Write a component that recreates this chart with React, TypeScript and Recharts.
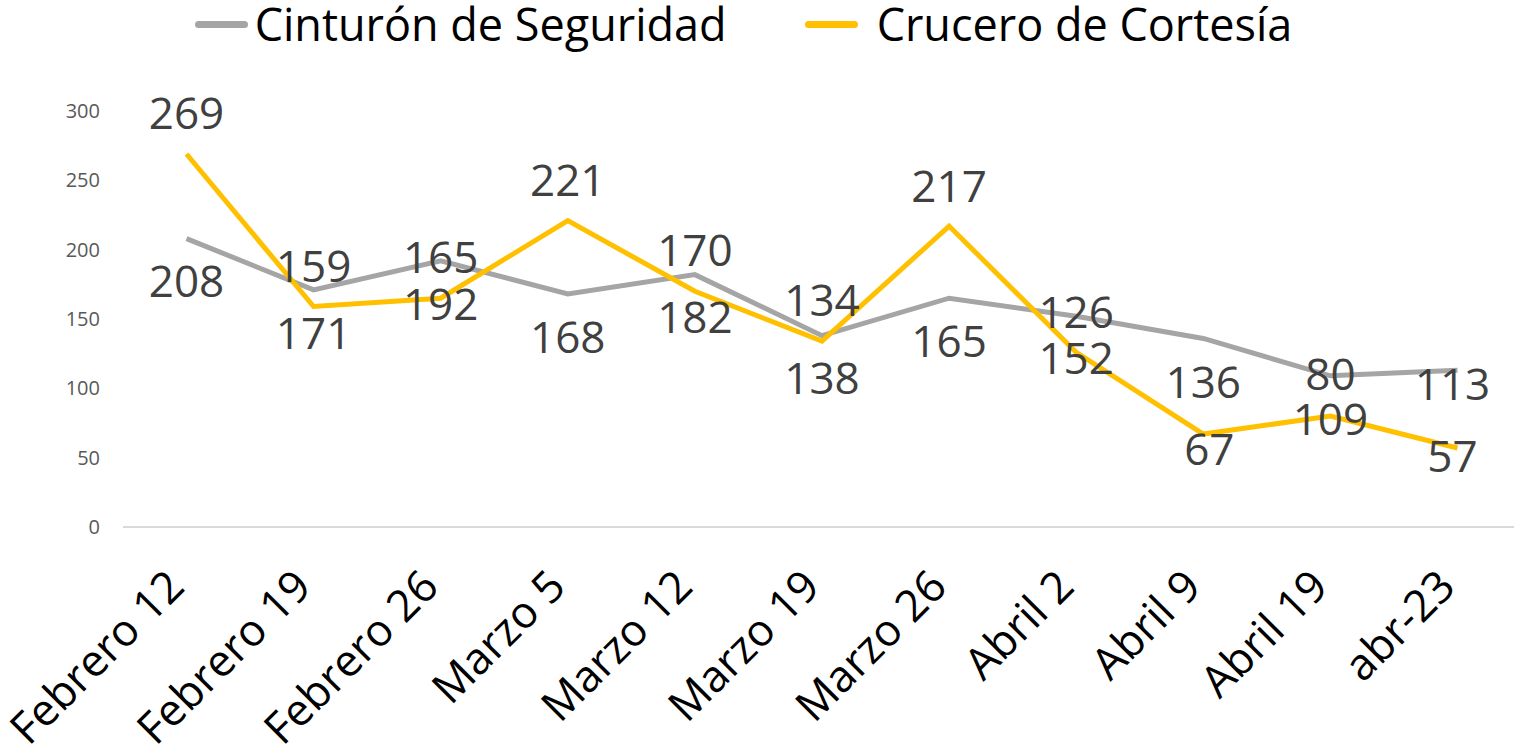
import React from 'react';
import { LineChart, Line, XAxis, YAxis, Legend, LabelList } from 'recharts';

const categories = [
  'Febrero 12', 'Febrero 19', 'Febrero 26', 'Marzo 5', 'Marzo 12', 'Marzo 19',
  'Marzo 26', 'Abril 2', 'Abril 9', 'Abril 19', 'abr-23',
];
const cinturon = [208, 171, 192, 168, 182, 138, 165, 152, 136, 109, 113];
const crucero = [269, 159, 165, 221, 170, 134, 217, 126, 67, 80, 57];
const yTicks = [0, 50, 100, 150, 200, 250, 300];

// label placement like the original (Excel moved a few of them)
const cinturonLabelDy = [43, 43, 43, 43, 43, 43, 43, 42, 44, 43, 14];
const cinturonLabelDx = [0, 0, 0, 0, 0, 0, 0, 0, 0, 0, -5];
const cruceroLabelDy = [-41, -40, -41, -40, -41, -41, -40, -40, 15, -42, 8];
const cruceroLabelDx = [0, 0, 0, 0, 0, 0, 0, 0, 6, 0, -5];

const GRAY = '#A5A5A5';
const YELLOW = '#FFC000';
const FONT = '"Open Sans", sans-serif';

const data = categories.map((name, i) => ({
  name,
  cinturon: cinturon[i],
  crucero: crucero[i],
}));

const makeLabel = (dxs: number[], dys: number[]) => (props: any) => {
  const { x, y, value, index } = props;
  return (
    <text
      x={x + dxs[index]}
      y={y + dys[index]}
      dy="0.36em"
      textAnchor="middle"
      fill="#404040"
      fontSize={44}
      fontFamily={FONT}
    >
      {value}
    </text>
  );
};

const XTick = (props: any) => {
  const { x, y, payload } = props;
  return (
    <text
      x={x}
      y={y + 62}
      textAnchor="end"
      fill="#000"
      fontSize={44}
      fontFamily={FONT}
      transform={`rotate(-45, ${x}, ${y + 62})`}
    >
      {payload.value}
    </text>
  );
};

const legendItems = [
  { label: 'Cinturón de Seguridad', color: GRAY, gap: 7 },
  { label: 'Crucero de Cortesía', color: YELLOW, gap: 19 },
];

const renderLegend = () => (
  <div style={{ height: 111, display: 'flex', justifyContent: 'center', paddingRight: 34, fontFamily: FONT }}>
    {legendItems.map((item, i) => (
      <div key={item.label} style={{ display: 'flex', alignItems: 'center', height: 48, marginLeft: i ? 78 : 0 }}>
        <div style={{ width: 53, height: 7, borderRadius: 4, background: item.color, marginRight: item.gap }} />
        <span style={{ fontSize: 45, color: '#000', lineHeight: '48px' }}>{item.label}</span>
      </div>
    ))}
  </div>
);

export default function App() {
  return (
    <div style={{ position: 'absolute', left: 0, top: 0, width: 1514, height: 752, background: '#fff' }}>
      <LineChart width={1514} height={752} data={data} margin={{ top: 0, right: -7, left: 0, bottom: 0 }}>
        <Legend verticalAlign="top" content={renderLegend} />
        <XAxis
          dataKey="name"
          height={225}
          interval={0}
          padding={{ left: 63.5, right: 63.5 }}
          tickLine={false}
          tickSize={0}
          tickMargin={0}
          axisLine={{ stroke: '#D9D9D9', strokeWidth: 2 }}
          tick={<XTick />}
        />
        <YAxis
          width={123}
          domain={[0, 300]}
          ticks={yTicks}
          axisLine={false}
          tickLine={false}
          tickSize={0}
          tickMargin={23}
          tick={{ fontSize: 20, fill: '#595959', fontFamily: FONT }}
        />
        <Line
          dataKey="cinturon"
          stroke={GRAY}
          strokeWidth={5}
          dot={false}
          activeDot={false}
          isAnimationActive={false}
        >
          <LabelList dataKey="cinturon" content={makeLabel(cinturonLabelDx, cinturonLabelDy)} />
        </Line>
        <Line
          dataKey="crucero"
          stroke={YELLOW}
          strokeWidth={5}
          dot={false}
          activeDot={false}
          isAnimationActive={false}
        >
          <LabelList dataKey="crucero" content={makeLabel(cruceroLabelDx, cruceroLabelDy)} />
        </Line>
      </LineChart>
    </div>
  );
}
